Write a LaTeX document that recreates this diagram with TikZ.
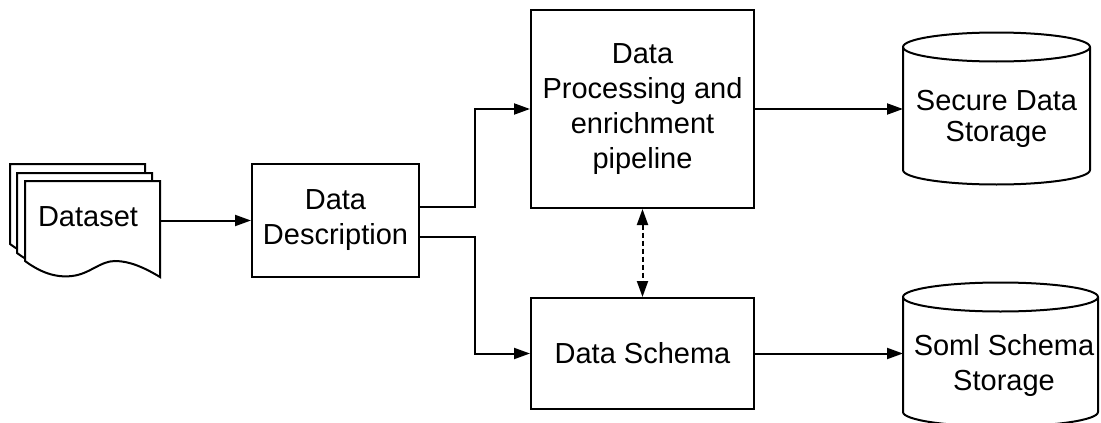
\documentclass[tikz,border=0pt]{standalone}
\usepackage{fontspec}
\setmainfont{Liberation Sans}
\usetikzlibrary{arrows.meta,calc}
\begin{document}
\begin{tikzpicture}[x=1pt,y=-1pt,line width=2pt,
  txt/.style={font=\fontsize{29}{35}\selectfont,align=center,inner sep=0pt},
  box/.style={txt,draw,fill=white},
  body/.style={inner sep=0pt,outer sep=0pt},
  link/.style={-{Triangle[length=16pt,width=11pt]}},
  dlink/.style={{Triangle[length=16pt,width=11pt]}-{Triangle[length=16pt,width=11pt]},dash pattern=on 5pt off 3pt}]
\useasboundingbox (0,0) rectangle (1101,423);

% stacked document sheets, back to front
\foreach \dx/\dy in {-15/-17,-8/-8,0/0}{
  \draw[fill=white,shift={(\dx,\dy)}] (25,181) -- (160,181) -- (160,277)
    .. controls (145,268) and (130,261) .. (115,261)
    .. controls (100,261) and (90,274) .. (72,276)
    .. controls (55,278) and (40,272) .. (25,261) -- cycle;
}
\node[body,minimum width=135pt,minimum height=96pt] (dataset) at (92.5,229) {};
\node[txt] (datasetText) at (88,217) {Dataset};

% process boxes
\node[box,minimum width=167pt,minimum height=113pt] (desc) at (335.5,220.5) {Data\\Description};
\node[box,minimum width=223pt,minimum height=198pt] (process) at (642.5,109) {Data\\Processing and\\enrichment\\pipeline};
\node[box,minimum width=223pt,minimum height=111pt] (schema) at (642.5,353.5) {Data Schema};

% storage cylinders
\draw[fill=white] (903,47) -- (903,170) arc[start angle=180,end angle=0,x radius=93.5,y radius=14.5]
  -- (1090,47) arc[start angle=0,end angle=-180,x radius=93.5,y radius=14.5] -- cycle;
\draw (903,47) arc[start angle=180,end angle=0,x radius=93.5,y radius=14.5];
\node[body,minimum width=187pt,minimum height=151pt] (secure) at (996.5,108.5) {};
\node[txt,font=\fontsize{29}{31}\selectfont] (secureText) at (996.5,119) {Secure Data\\Storage};

\draw[fill=white] (903,297) -- (903,412) arc[start angle=180,end angle=0,x radius=97.5,y radius=14.5]
  -- (1098,297) arc[start angle=0,end angle=-180,x radius=97.5,y radius=14.5] -- cycle;
\draw (903,297) arc[start angle=180,end angle=0,x radius=97.5,y radius=14.5];
\node[body,minimum width=195pt,minimum height=143pt] (soml) at (1000.5,354.5) {};
\node[txt] (somlText) at (1004,365) {Soml Schema\\Storage};

% connectors
\coordinate (outA) at ($(desc.north east)!0.38!(desc.south east)$);
\coordinate (outB) at ($(desc.north east)!0.64!(desc.south east)$);
\coordinate (bus) at ($(desc.east)!0.5!(process.west)$);

\draw[link] (dataset.east |- desc.west) -- (desc.west);
\draw[link] (outA) -| (bus |- process.west) -- (process.west);
\draw[link] (outB) -| (bus |- schema.west) -- (schema.west);
\draw[link] (process.east) -- (process.east -| secure.west);
\draw[link] (schema.east) -- (schema.east -| soml.west);
\draw[dlink] (process.south) -- (schema.north);
\end{tikzpicture}
\end{document}
